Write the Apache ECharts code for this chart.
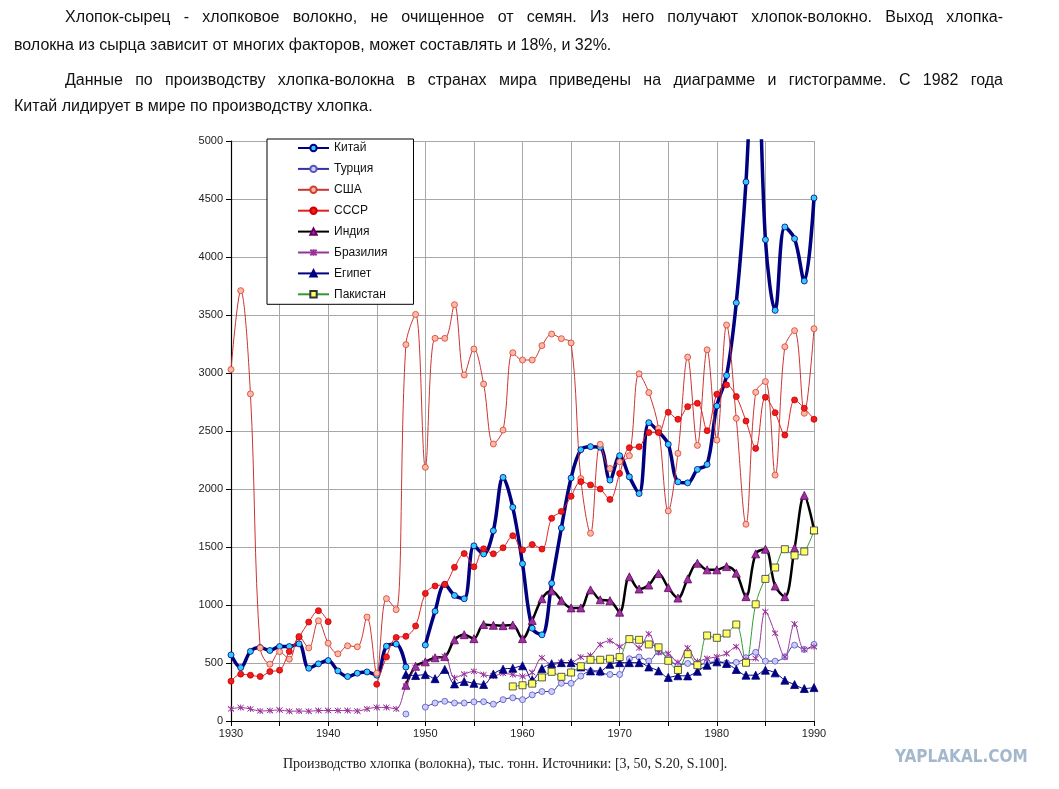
<!DOCTYPE html>
<html><head><meta charset="utf-8">
<script src="https://cdn.jsdelivr.net/npm/echarts@6/dist/echarts.min.js"></script>
<style>
html,body{margin:0;padding:0;background:#fff;width:1059px;height:789px;overflow:hidden;}
#chart{position:absolute;left:0;top:0;width:1059px;height:789px;z-index:1;}
.t{position:absolute;font-family:"Liberation Sans",Arial,sans-serif;font-size:16px;line-height:24px;color:#111;white-space:nowrap;z-index:2;}
.j{white-space:normal;text-align:justify;text-align-last:justify;}
</style></head>
<body>
<div id="chart"></div>
<div class="t j" style="left:65px;top:5px;width:938px;">Хлопок-сырец - хлопковое волокно, не очищенное от семян. Из него получают хлопок-волокно. Выход хлопка-</div>
<div class="t" style="left:14px;top:33px;">волокна из сырца зависит от многих факторов, может составлять и 18%, и 32%.</div>
<div class="t j" style="left:65px;top:68px;width:938px;">Данные по производству хлопка-волокна в странах мира приведены на диаграмме и гистограмме. С 1982 года</div>
<div class="t" style="left:14px;top:94px;">Китай лидирует в мире по производству хлопка.</div>
<script>
// Values in thousand tonnes; each series starts at its own first year, null = gap
const chinaStart = 1930;
const china = [570,460,600,633,608,642,642,665,455,493,521,432,383,412,423,395,645,663,465,null,
  655,946,1178,1082,1054,1510,1440,1640,2100,1842,1356,800,743,1187,1664,2095,2339,2365,2360,2077,
  2287,2105,1961,2572,2494,2385,2062,2053,2169,2212,2716,2978,3605,4647,6250,4149,3540,4259,4158,3793,4509];
const turkeyStart = 1948;
const turkey = [60,null,120,155,170,155,155,165,166,145,184,200,184,225,254,254,325,325,387,429,415,401,
  401,537,551,517,595,540,481,496,481,501,510,501,505,545,592,516,516,553,654,617,660];
const usaStart = 1930;
const usa = [3030,3710,2820,630,490,598,533,730,630,864,671,579,648,640,896,412,1055,960,3245,3505,
  2187,3299,3299,3589,2983,3207,2905,2388,2508,3175,3112,3112,3236,3336,3296,3259,2090,1618,2385,2177,
  2235,2287,2993,2831,2523,1811,2307,3137,2376,3200,2422,3414,2609,1696,2834,2926,2120,3226,3365,2653,3382];
const ussrStart = 1930;
const ussr = [343,404,395,383,426,438,599,723,853,951,856,null,null,null,null,317,552,720,730,819,
  1100,1164,1178,1325,1443,1329,1484,1441,1493,1597,1475,1521,1482,1747,1807,1937,2063,2035,2000,1910,
  2134,2356,2364,2486,2486,2661,2601,2710,2739,2503,2817,2898,2797,2586,2350,2791,2658,2465,2768,2696,2601];
const indiaStart = 1948;
const india = [308,472,510,545,555,700,744,710,832,825,822,828,710,867,1054,1122,1040,975,975,1130,1045,1037,
  938,1243,1138,1172,1271,1150,1060,1225,1360,1303,1303,1331,1274,1072,1441,1481,1164,1072,1490,1945,1649];
const brazilStart = 1930;
const brazil = [104,116,104,86,90,95,84,86,84,90,90,90,90,86,104,117,117,104,300,460,
  500,540,555,372,404,428,400,387,410,400,385,418,545,480,503,503,551,565,658,692,
  641,698,630,750,593,582,505,630,515,539,553,582,640,527,539,942,757,553,836,617,640];
const egyptStart = 1948;
const egypt = [400,392,400,365,445,320,340,325,315,405,447,455,476,355,452,494,503,503,466,432,432,489,
  503,503,503,466,432,376,390,389,429,481,510,496,444,395,395,438,415,352,314,280,288];
const pakistanStart = 1959;
const pakistan = [298,308,322,376,424,381,418,472,528,528,537,551,706,700,660,635,519,440,576,481,
  737,717,754,832,502,1006,1225,1323,1481,1427,1461,1643];

const seriesNames = ['Китай','Турция','США','СССР','Индия','Бразилия','Египет','Пакистан'];
const yTicks = {min: 0, max: 5000, step: 500};
const xTicks = {min: 1930, max: 1990, step: 5, labelStep: 10};

function pairs(start, arr) {
  return arr.map((v, i) => [start + i, v === null ? '-' : v]);
}
const asterisk = 'path://M0,0L10,10M10,0L0,10M5,-1L5,11M0,0L10,10';
const FONT = '"Liberation Sans", Arial, sans-serif';

function mk(name, start, arr, o) {
  return {
    name: name, type: 'line', data: pairs(start, arr), smooth: 0.35, connectNulls: false,
    symbol: o.symbol, symbolSize: o.size, showSymbol: true, clip: true,
    lineStyle: {color: o.line, width: o.width},
    itemStyle: {color: o.fill, borderColor: o.border, borderWidth: o.bw == null ? 0.8 : o.bw},
    emphasis: {disabled: true}
  };
}

const chart = echarts.init(document.getElementById('chart'), null, {renderer: 'canvas'});
chart.setOption({
  animation: false,
  backgroundColor: 'transparent',
  grid: {left: 231, top: 141, width: 583, height: 580, outerBoundsMode: 'none', containLabel: false},
  legend: {
    data: seriesNames, orient: 'vertical', left: 267, top: 139,
    padding: [3, 26, 4, 30], itemWidth: 31, itemHeight: 8, itemGap: 8.9,
    borderColor: '#000', borderWidth: 1, backgroundColor: '#fff', borderRadius: 0,
    textStyle: {fontFamily: FONT, fontSize: 12, color: '#111', lineHeight: 12},
    selectedMode: false
  },
  xAxis: {
    type: 'value', min: xTicks.min, max: xTicks.max, interval: xTicks.step,
    axisLine: {show: true, onZero: false, lineStyle: {color: '#000', width: 1.2}},
    axisTick: {show: true, length: 5, lineStyle: {color: '#000'}},
    axisLabel: {fontFamily: FONT, fontSize: 11, color: '#222', margin: 7,
      formatter: v => (v % xTicks.labelStep === 0 ? String(v) : '')},
    splitLine: {show: true, lineStyle: {color: '#a8a8a8', width: 1}}
  },
  yAxis: {
    type: 'value', min: yTicks.min, max: yTicks.max, interval: yTicks.step,
    axisLine: {show: true, lineStyle: {color: '#000', width: 1.2}},
    axisTick: {show: true, length: 5, lineStyle: {color: '#000'}},
    axisLabel: {fontFamily: FONT, fontSize: 11, color: '#222', margin: 8, formatter: v => String(v)},
    splitLine: {show: true, lineStyle: {color: '#a8a8a8', width: 1}}
  },
  graphic: [
    {type: 'text', left: 283, top: 757, style: {text: 'Производство хлопка (волокна), тыс. тонн. Источники: [3, 50, S.20, S.100].',
      font: '14px "Liberation Serif", "Times New Roman", serif', fill: '#222'}},
    {type: 'text', left: 895, top: 749, style: {text: 'YAPLAKAL.COM',
      font: '900 17px "DejaVu Sans Condensed", "DejaVu Sans", sans-serif', fill: '#a3b8cc'}}
  ],
  series: [
    mk('Китай', chinaStart, china, {symbol: 'circle', size: 6, line: '#000080', width: 3.5, fill: '#33ccff', border: '#000080'}),
    mk('Турция', turkeyStart, turkey, {symbol: 'circle', size: 6, line: '#333399', width: 1, fill: '#ccccff', border: '#5555bb'}),
    mk('США', usaStart, usa, {symbol: 'circle', size: 6, line: '#cc3333', width: 1, fill: '#ffb8a6', border: '#d04030'}),
    mk('СССР', ussrStart, ussr, {symbol: 'circle', size: 6, line: '#e02020', width: 1, fill: '#ee1c1c', border: '#cc0000'}),
    mk('Индия', indiaStart, india, {symbol: 'triangle', size: 8, line: '#000000', width: 2.5, fill: '#993399', border: '#660066'}),
    mk('Бразилия', brazilStart, brazil, {symbol: asterisk, size: 6, line: '#993399', width: 1, fill: '#993399', border: '#993399', bw: 1}),
    mk('Египет', egyptStart, egypt, {symbol: 'triangle', size: 8, line: '#000080', width: 1, fill: '#000080', border: '#000080'}),
    mk('Пакистан', pakistanStart, pakistan, {symbol: 'rect', size: 7, line: '#339933', width: 1, fill: '#ffff66', border: '#333333'})
  ]
});
</script>
</body></html>
